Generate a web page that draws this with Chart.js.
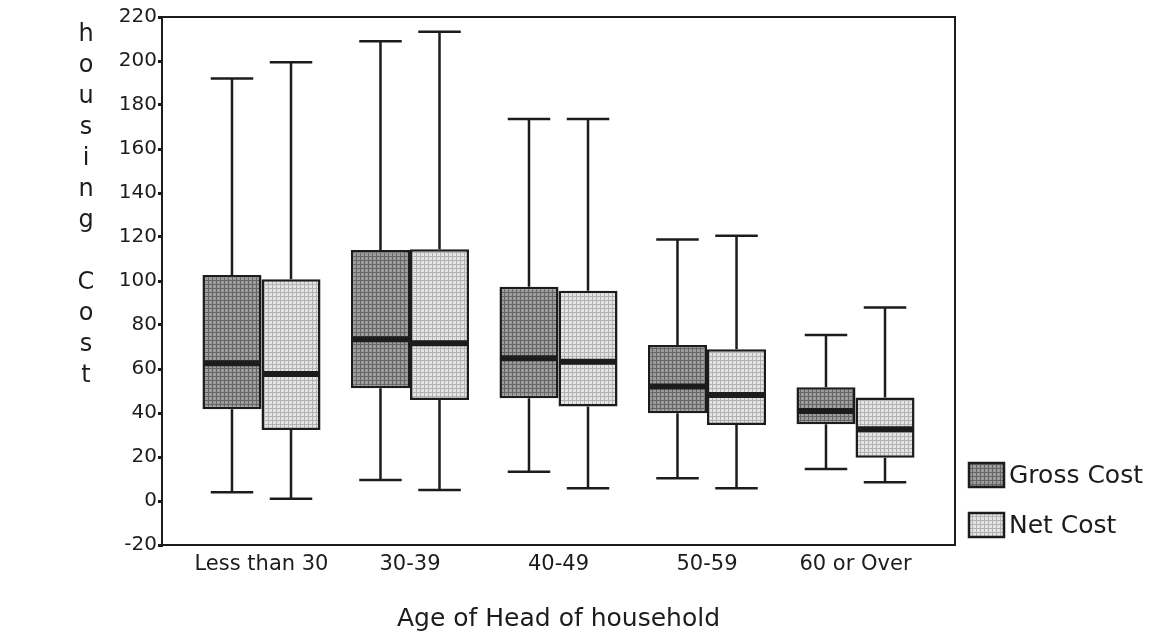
<!DOCTYPE html>
<html>
<head>
<meta charset="utf-8">
<script src="https://cdn.jsdelivr.net/npm/chart.js@4.4.1/dist/chart.umd.min.js"></script>
<style>
  html, body { margin: 0; padding: 0; background: #fff; }
</style>
</head>
<body>
<canvas id="boxChart" width="1162" height="636"></canvas>
<script>
// categories and series
const categories = ['Less than 30', '30-39', '40-49', '50-59', '60 or Over'];
const seriesNames = ['Gross Cost', 'Net Cost'];

// Gross cost box stats
const grossMin = [4, 9.5, 13.3, 10.3, 14.5];
const grossQ1 = [41.7, 51.2, 46.7, 39.9, 34.9];
const grossMedian = [62.6, 73.5, 64.9, 52, 40.9];
const grossQ3 = [102.7, 114.1, 97.4, 70.9, 51.7];
const grossMax = [192, 209, 173.6, 118.9, 75.5];

// Net cost box stats
const netMin = [1, 5, 5.8, 5.8, 8.5];
const netQ1 = [32.3, 45.9, 42.9, 34.5, 19.7];
const netMedian = [57.7, 71.7, 63.3, 48.2, 32.6];
const netQ3 = [100.8, 114.4, 95.6, 69, 47];
const netMax = [199.4, 213.3, 173.6, 120.6, 87.9];

const yTicks = [-20, 0, 20, 40, 60, 80, 100, 120, 140, 160, 180, 200, 220];
const xTitle = 'Age of Head of household';
const yTitle = 'housing Cost';

const INK = '#1c1c1c';
const FONT = "'DejaVu Sans', 'Liberation Sans', Arial, sans-serif";

function makePattern(bg, line) {
    const c = document.createElement('canvas');
    c.width = 4; c.height = 4;
    const g = c.getContext('2d');
    g.fillStyle = bg;
    g.fillRect(0, 0, 4, 4);
    g.fillStyle = line;
    g.fillRect(0, 0, 4, 1);
    g.fillRect(0, 0, 1, 4);
    return g.createPattern(c, 'repeat');
}

const ctx = document.getElementById('boxChart').getContext('2d');
const grossFill = makePattern('#9c9c9c', '#666666');
const netFill = makePattern('#e4e4e4', '#b2b2b2');

const stats = [
    { min: grossMin, med: grossMedian, max: grossMax },
    { min: netMin, med: netMedian, max: netMax }
];

// whiskers, medians, frame, legend and the stacked y title
const boxExtras = {
    id: 'boxExtras',
    afterDatasetsDraw(chart) {
        const c = chart.ctx;
        const y = chart.scales.y;
        c.save();
        c.strokeStyle = INK;
        stats.forEach((s, d) => {
            chart.getDatasetMeta(d).data.forEach((bar, i) => {
                const half = bar.width / 2;
                const cap = bar.width * 0.36;
                const top = Math.min(bar.y, bar.base);
                const bottom = Math.max(bar.y, bar.base);
                const yMax = y.getPixelForValue(s.max[i]);
                const yMin = y.getPixelForValue(s.min[i]);
                const yMed = y.getPixelForValue(s.med[i]);
                c.lineWidth = 2.5;
                c.beginPath();
                c.moveTo(bar.x, top); c.lineTo(bar.x, yMax);
                c.moveTo(bar.x, bottom); c.lineTo(bar.x, yMin);
                c.moveTo(bar.x - cap, yMax); c.lineTo(bar.x + cap, yMax);
                c.moveTo(bar.x - cap, yMin); c.lineTo(bar.x + cap, yMin);
                c.stroke();
                c.lineWidth = 6;
                c.beginPath();
                c.moveTo(bar.x - half + 1, yMed); c.lineTo(bar.x + half - 1, yMed);
                c.stroke();
            });
        });
        const a = chart.chartArea;
        c.lineWidth = 2;
        c.strokeRect(a.left, a.top, a.right - a.left, a.bottom - a.top);
        c.restore();
    },
    afterDraw(chart) {
        const c = chart.ctx;
        c.save();
        // legend
        const fills = [grossFill, netFill];
        c.font = '25px ' + FONT;
        c.textBaseline = 'middle';
        c.textAlign = 'left';
        seriesNames.forEach((name, i) => {
            const top = 463 + i * 50;
            c.fillStyle = fills[i];
            c.fillRect(969, top, 35, 24);
            c.strokeStyle = INK;
            c.lineWidth = 2.5;
            c.strokeRect(969, top, 35, 24);
            c.fillStyle = INK;
            c.fillText(name, 1009, top + 13);
        });
        // y title, one letter per line
        c.textAlign = 'center';
        c.font = '24px ' + FONT;
        yTitle.split('').forEach((ch, i) => {
            if (ch !== ' ') c.fillText(ch, 86, 35 + i * 31);
        });
        c.restore();
    }
};

new Chart(ctx, {
    type: 'bar',
    data: {
        datasets: [
            {
                label: seriesNames[0],
                data: categories.map((c, i) => ({ x: i, y: [grossQ1[i], grossQ3[i]] })),
                backgroundColor: grossFill,
                borderColor: INK,
                borderWidth: 2.5,
                borderSkipped: false,
                categoryPercentage: 0.795,
                barPercentage: 1
            },
            {
                label: seriesNames[1],
                data: categories.map((c, i) => ({ x: i, y: [netQ1[i], netQ3[i]] })),
                backgroundColor: netFill,
                borderColor: INK,
                borderWidth: 2.5,
                borderSkipped: false,
                categoryPercentage: 0.795,
                barPercentage: 1
            }
        ]
    },
    options: {
        responsive: false,
        animation: false,
        devicePixelRatio: 1,
        layout: { padding: { top: 17, right: 207, bottom: 0, left: 0 } },
        scales: {
            x: {
                type: 'linear',
                offset: false,
                min: -0.67,
                max: 4.67,
                afterBuildTicks: s => { s.ticks = categories.map((c, i) => ({ value: i })); },
                afterFit: s => { s.height = 91; },
                grid: { display: false, drawTicks: false, offset: false },
                border: { display: true, color: INK, width: 2 },
                ticks: {
                    autoSkip: false,
                    maxRotation: 0,
                    padding: 7,
                    color: INK,
                    font: { family: FONT, size: 21 },
                    callback: v => categories[v]
                },
                title: {
                    display: true,
                    text: xTitle,
                    color: INK,
                    font: { family: FONT, size: 25 },
                    padding: { top: 0, bottom: 2 }
                }
            },
            y: {
                min: -20,
                max: 220,
                afterBuildTicks: s => { s.ticks = yTicks.map(v => ({ value: v })); },
                afterFit: s => { s.width = 162; },
                grid: { drawOnChartArea: false, tickLength: 4, lineWidth: 3, color: INK },
                border: { color: INK, width: 2 },
                ticks: { padding: 1, color: INK, font: { family: FONT, size: 20 } }
            }
        },
        plugins: {
            legend: { display: false },
            tooltip: { enabled: false }
        }
    },
    plugins: [boxExtras]
});
</script>
</body>
</html>
